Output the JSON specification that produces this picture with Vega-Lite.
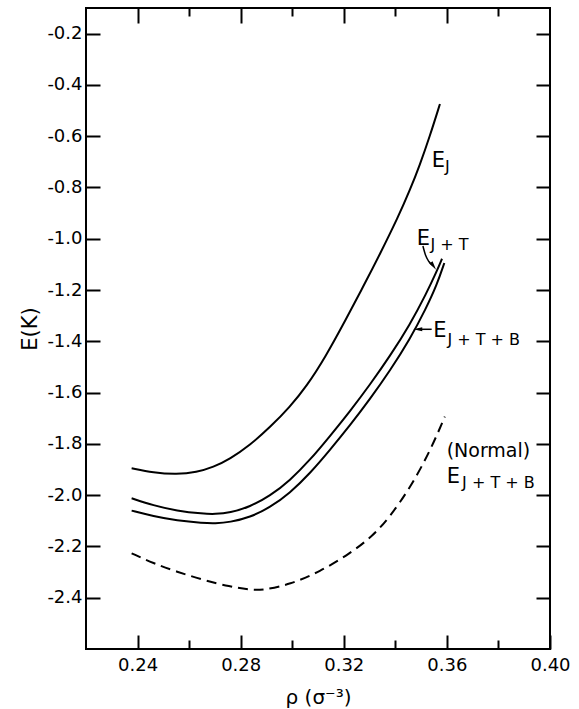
{
  "$schema": "https://vega.github.io/schema/vega-lite/v6.json",
  "width": 464,
  "height": 641,
  "autosize": "none",
  "padding": {"left": 86, "top": 8, "right": 29, "bottom": 60},
  "background": "white",
  "config": {
    "view": {"stroke": "black", "strokeWidth": 2},
    "font": "DejaVu Sans",
    "axis": {"grid": false, "domain": false, "tickColor": "black", "tickWidth": 2, "labelColor": "black", "titleColor": "black", "labelFont": "DejaVu Sans", "titleFont": "DejaVu Sans", "titleFontWeight": "normal"}
  },
  "datasets": {
    "curves": [
      {"series": "EJ", "x": 0.2377, "y": -1.895},
      {"series": "EJ", "x": 0.2461, "y": -1.9125},
      {"series": "EJ", "x": 0.2552, "y": -1.919},
      {"series": "EJ", "x": 0.2629, "y": -1.9106},
      {"series": "EJ", "x": 0.2694, "y": -1.8906},
      {"series": "EJ", "x": 0.2758, "y": -1.859},
      {"series": "EJ", "x": 0.2836, "y": -1.805},
      {"series": "EJ", "x": 0.2914, "y": -1.735},
      {"series": "EJ", "x": 0.2991, "y": -1.6558},
      {"series": "EJ", "x": 0.3056, "y": -1.5745},
      {"series": "EJ", "x": 0.3127, "y": -1.4644},
      {"series": "EJ", "x": 0.3211, "y": -1.309},
      {"series": "EJ", "x": 0.3275, "y": -1.1874},
      {"series": "EJ", "x": 0.3340, "y": -1.0606},
      {"series": "EJ", "x": 0.3411, "y": -0.915},
      {"series": "EJ", "x": 0.3457, "y": -0.8092},
      {"series": "EJ", "x": 0.3495, "y": -0.7123},
      {"series": "EJ", "x": 0.3534, "y": -0.5992},
      {"series": "EJ", "x": 0.3573, "y": -0.4744},
      {"series": "EJT", "x": 0.2377, "y": -2.0123},
      {"series": "EJT", "x": 0.2461, "y": -2.040},
      {"series": "EJT", "x": 0.2552, "y": -2.061},
      {"series": "EJT", "x": 0.2655, "y": -2.0727},
      {"series": "EJT", "x": 0.2700, "y": -2.074},
      {"series": "EJT", "x": 0.2758, "y": -2.0688},
      {"series": "EJT", "x": 0.2836, "y": -2.0453},
      {"series": "EJT", "x": 0.2914, "y": -2.0030},
      {"series": "EJT", "x": 0.2991, "y": -1.9427},
      {"series": "EJT", "x": 0.3069, "y": -1.8629},
      {"series": "EJT", "x": 0.3146, "y": -1.770},
      {"series": "EJT", "x": 0.3224, "y": -1.673},
      {"series": "EJT", "x": 0.3301, "y": -1.570},
      {"series": "EJT", "x": 0.3379, "y": -1.458},
      {"series": "EJT", "x": 0.3457, "y": -1.334},
      {"series": "EJT", "x": 0.3519, "y": -1.216},
      {"series": "EJT", "x": 0.3561, "y": -1.126},
      {"series": "EJT", "x": 0.3581, "y": -1.078},
      {"series": "EJTB", "x": 0.2377, "y": -2.0603},
      {"series": "EJTB", "x": 0.2461, "y": -2.082},
      {"series": "EJTB", "x": 0.2552, "y": -2.099},
      {"series": "EJTB", "x": 0.2655, "y": -2.1087},
      {"series": "EJTB", "x": 0.2700, "y": -2.110},
      {"series": "EJTB", "x": 0.2758, "y": -2.1058},
      {"series": "EJTB", "x": 0.2836, "y": -2.0863},
      {"series": "EJTB", "x": 0.2914, "y": -2.048},
      {"series": "EJTB", "x": 0.2991, "y": -1.9917},
      {"series": "EJTB", "x": 0.3069, "y": -1.9149},
      {"series": "EJTB", "x": 0.3146, "y": -1.824},
      {"series": "EJTB", "x": 0.3224, "y": -1.728},
      {"series": "EJTB", "x": 0.3301, "y": -1.626},
      {"series": "EJTB", "x": 0.3379, "y": -1.515},
      {"series": "EJTB", "x": 0.3457, "y": -1.391},
      {"series": "EJTB", "x": 0.3519, "y": -1.272},
      {"series": "EJTB", "x": 0.3561, "y": -1.180},
      {"series": "EJTB", "x": 0.3590, "y": -1.0945},
      {"series": "Normal", "x": 0.2377, "y": -2.2267},
      {"series": "Normal", "x": 0.2461, "y": -2.2657},
      {"series": "Normal", "x": 0.2552, "y": -2.2985},
      {"series": "Normal", "x": 0.2655, "y": -2.3309},
      {"series": "Normal", "x": 0.2758, "y": -2.3570},
      {"series": "Normal", "x": 0.2836, "y": -2.3690},
      {"series": "Normal", "x": 0.2888, "y": -2.3705},
      {"series": "Normal", "x": 0.2991, "y": -2.3484},
      {"series": "Normal", "x": 0.3107, "y": -2.2985},
      {"series": "Normal", "x": 0.3224, "y": -2.228},
      {"series": "Normal", "x": 0.3314, "y": -2.158},
      {"series": "Normal", "x": 0.3379, "y": -2.084},
      {"series": "Normal", "x": 0.3457, "y": -1.972},
      {"series": "Normal", "x": 0.3534, "y": -1.830},
      {"series": "Normal", "x": 0.3592, "y": -1.694}
    ],
    "bigLabels": [
      {"t": "E", "x": 0.3541, "y": -0.719},
      {"t": "E", "x": 0.3483, "y": -1.0243},
      {"t": "E", "x": 0.3547, "y": -1.382},
      {"t": "E", "x": 0.3599, "y": -1.9537}
    ],
    "subLabels": [
      {"t": "J", "x": 0.3593, "y": -0.740},
      {"t": "J + T", "x": 0.3536, "y": -1.043},
      {"t": "J + T + B", "x": 0.3602, "y": -1.414},
      {"t": "J + T + B", "x": 0.3659, "y": -1.973}
    ],
    "normalLabel": [
      {"t": "(Normal)", "x": 0.3599, "y": -1.850}
    ],
    "arrows": [
      {"arrow": "a1", "o": 1, "x": 0.3507, "y": -1.0282},
      {"arrow": "a1", "o": 2, "x": 0.3517, "y": -1.0633},
      {"arrow": "a1", "o": 3, "x": 0.3530, "y": -1.0887},
      {"arrow": "a1", "o": 4, "x": 0.3548, "y": -1.1062},
      {"arrow": "a2", "o": 1, "x": 0.3541, "y": -1.3531},
      {"arrow": "a2", "o": 2, "x": 0.3487, "y": -1.3531}
    ],
    "head1": [{"x": 0.3548, "y": -1.1062}],
    "head2": [{"x": 0.3487, "y": -1.3531}]
  },
  "resolve": {"axis": {"x": "independent", "y": "independent"}},
  "layer": [
    {
      "data": {"name": "curves"},
      "transform": [{"filter": "datum.series == 'EJ'"}],
      "mark": {"type": "line", "color": "black", "strokeWidth": 2, "interpolate": "basis"},
      "encoding": {
        "x": {"field": "x", "type": "quantitative", "scale": {"domain": [0.22, 0.40], "nice": false, "zero": false},
          "axis": {"orient": "bottom", "values": [0.24, 0.28, 0.32, 0.36, 0.40], "format": ".2f", "tickSize": -14, "labelFontSize": 18, "labelPadding": 21, "labelFlush": false, "labelOverlap": false, "labelBound": false, "title": "ρ (σ⁻³)", "titleFontSize": 20, "titlePadding": 13}},
        "y": {"field": "y", "type": "quantitative", "scale": {"domain": [-2.6, -0.1], "nice": false, "zero": false},
          "axis": {"orient": "left", "values": [-0.2, -0.4, -0.6, -0.8, -1.0, -1.2, -1.4, -1.6, -1.8, -2.0, -2.2, -2.4], "format": ".1f", "labelExpr": "replace(datum.label, '−', '-')", "tickSize": -14, "labelFontSize": 18, "labelPadding": 18, "labelFlush": false, "labelOverlap": false, "labelBound": false, "title": "E(K)", "titleFontSize": 21, "titlePadding": 6}}
      }
    },
    {
      "data": {"name": "curves"},
      "transform": [{"filter": "datum.series == 'EJT'"}],
      "mark": {"type": "line", "color": "black", "strokeWidth": 2, "interpolate": "basis"},
      "encoding": {
        "x": {"field": "x", "type": "quantitative", "scale": {"domain": [0.22, 0.40], "nice": false, "zero": false},
          "axis": {"orient": "bottom", "values": [0.26, 0.30, 0.34, 0.38], "tickSize": -9, "labels": false, "title": null}},
        "y": {"field": "y", "type": "quantitative", "scale": {"domain": [-2.6, -0.1], "nice": false, "zero": false},
          "axis": {"orient": "right", "values": [-0.2, -0.4, -0.6, -0.8, -1.0, -1.2, -1.4, -1.6, -1.8, -2.0, -2.2, -2.4], "tickSize": -14, "labels": false, "title": null}}
      }
    },
    {
      "data": {"name": "curves"},
      "transform": [{"filter": "datum.series == 'EJTB'"}],
      "mark": {"type": "line", "color": "black", "strokeWidth": 2, "interpolate": "basis"},
      "encoding": {
        "x": {"field": "x", "type": "quantitative", "scale": {"domain": [0.22, 0.40], "nice": false, "zero": false},
          "axis": {"orient": "top", "values": [0.24, 0.28, 0.32, 0.36], "tickSize": -15, "labels": false, "title": null}},
        "y": {"field": "y", "type": "quantitative", "scale": {"domain": [-2.6, -0.1], "nice": false, "zero": false}, "axis": null}
      }
    },
    {
      "data": {"name": "curves"},
      "transform": [{"filter": "datum.series == 'Normal'"}],
      "mark": {"type": "line", "color": "black", "strokeWidth": 2, "strokeDash": [10, 6], "interpolate": "basis"},
      "encoding": {
        "x": {"field": "x", "type": "quantitative", "scale": {"domain": [0.22, 0.40], "nice": false, "zero": false},
          "axis": {"orient": "top", "values": [0.26, 0.30, 0.34, 0.38], "tickSize": -8, "labels": false, "title": null}},
        "y": {"field": "y", "type": "quantitative", "scale": {"domain": [-2.6, -0.1], "nice": false, "zero": false}, "axis": null}
      }
    },
    {
      "data": {"name": "bigLabels"},
      "mark": {"type": "text", "align": "left", "baseline": "alphabetic", "fontSize": 21, "font": "DejaVu Sans", "color": "black"},
      "encoding": {
        "x": {"field": "x", "type": "quantitative", "scale": {"domain": [0.22, 0.40], "nice": false, "zero": false}, "axis": null},
        "y": {"field": "y", "type": "quantitative", "scale": {"domain": [-2.6, -0.1], "nice": false, "zero": false}, "axis": null},
        "text": {"field": "t"}
      }
    },
    {
      "data": {"name": "subLabels"},
      "mark": {"type": "text", "align": "left", "baseline": "alphabetic", "fontSize": 16, "font": "DejaVu Sans", "color": "black"},
      "encoding": {
        "x": {"field": "x", "type": "quantitative", "scale": {"domain": [0.22, 0.40], "nice": false, "zero": false}, "axis": null},
        "y": {"field": "y", "type": "quantitative", "scale": {"domain": [-2.6, -0.1], "nice": false, "zero": false}, "axis": null},
        "text": {"field": "t"}
      }
    },
    {
      "data": {"name": "normalLabel"},
      "mark": {"type": "text", "align": "left", "baseline": "alphabetic", "fontSize": 19, "font": "DejaVu Sans", "color": "black"},
      "encoding": {
        "x": {"field": "x", "type": "quantitative", "scale": {"domain": [0.22, 0.40], "nice": false, "zero": false}, "axis": null},
        "y": {"field": "y", "type": "quantitative", "scale": {"domain": [-2.6, -0.1], "nice": false, "zero": false}, "axis": null},
        "text": {"field": "t"}
      }
    },
    {
      "data": {"name": "arrows"},
      "mark": {"type": "line", "color": "black", "strokeWidth": 1.5, "interpolate": "monotone"},
      "encoding": {
        "x": {"field": "x", "type": "quantitative", "scale": {"domain": [0.22, 0.40], "nice": false, "zero": false}, "axis": null},
        "y": {"field": "y", "type": "quantitative", "scale": {"domain": [-2.6, -0.1], "nice": false, "zero": false}, "axis": null},
        "detail": {"field": "arrow"},
        "order": {"field": "o"}
      }
    },
    {
      "data": {"name": "head1"},
      "mark": {"type": "point", "shape": "M0,-1L0.45,1L-0.45,1Z", "filled": true, "color": "black", "opacity": 1, "size": 81, "angle": 145},
      "encoding": {
        "x": {"field": "x", "type": "quantitative", "scale": {"domain": [0.22, 0.40], "nice": false, "zero": false}, "axis": null},
        "y": {"field": "y", "type": "quantitative", "scale": {"domain": [-2.6, -0.1], "nice": false, "zero": false}, "axis": null}
      }
    },
    {
      "data": {"name": "head2"},
      "mark": {"type": "point", "shape": "M0,-1L0.45,1L-0.45,1Z", "filled": true, "color": "black", "opacity": 1, "size": 81, "angle": 270},
      "encoding": {
        "x": {"field": "x", "type": "quantitative", "scale": {"domain": [0.22, 0.40], "nice": false, "zero": false}, "axis": null},
        "y": {"field": "y", "type": "quantitative", "scale": {"domain": [-2.6, -0.1], "nice": false, "zero": false}, "axis": null}
      }
    }
  ]
}
